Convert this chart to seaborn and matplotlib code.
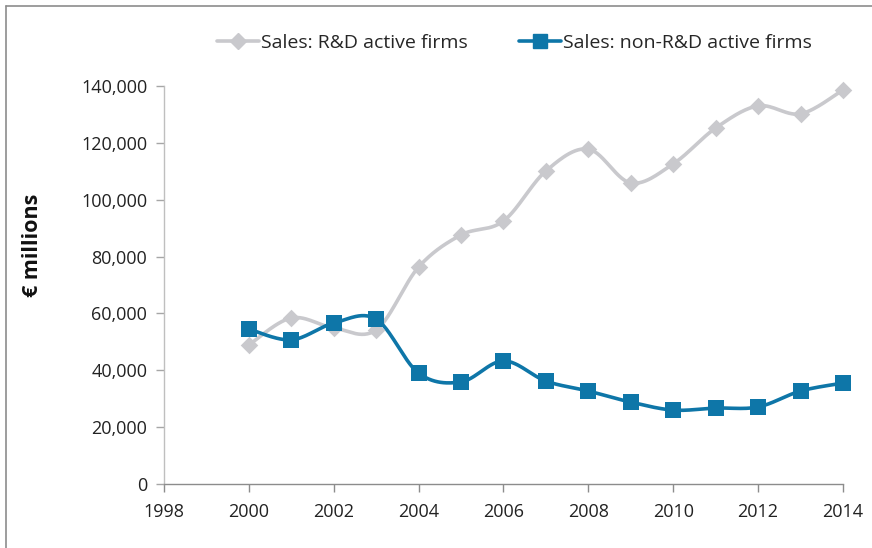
import numpy as np
import pandas as pd
import matplotlib
matplotlib.use("Agg")
import matplotlib.pyplot as plt
from matplotlib.lines import Line2D
import seaborn as sns

# --- data ---
years = list(range(2000, 2015))
rd_sales = [48900, 58400, 54900, 54200, 76300, 87600, 92500, 110100,
            117800, 105900, 112600, 125200, 133000, 130200, 138600]
nonrd_sales = [54500, 50700, 56600, 58000, 39000, 35900, 43300, 36200,
               32700, 28800, 26000, 26700, 27100, 32700, 35500]
series_names = ["Sales: R&D active firms", "Sales: non-R&D active firms"]
x_ticks = list(range(1998, 2015, 2))
y_ticks = list(range(0, 140001, 20000))

gray = "#C9C9CD"
blue = "#0E76A8"


def smooth(x, y, n=30):
    # Excel-style smoothed line: Catmull-Rom through the points as Bezier segments
    x = np.asarray(x, float)
    y = np.asarray(y, float)
    px = np.concatenate([[x[0]], x, [x[-1]]])
    py = np.concatenate([[y[0]], y, [y[-1]]])
    xs, ys = [], []
    t = np.linspace(0, 1, n)
    for i in range(1, len(px) - 2):
        p0 = np.array([px[i], py[i]])
        p3 = np.array([px[i + 1], py[i + 1]])
        p1 = p0 + (np.array([px[i + 1], py[i + 1]]) - np.array([px[i - 1], py[i - 1]])) / 6
        p2 = p3 - (np.array([px[i + 2], py[i + 2]]) - np.array([px[i], py[i]])) / 6
        b = ((1 - t) ** 3)[:, None] * p0 + (3 * (1 - t) ** 2 * t)[:, None] * p1 \
            + (3 * (1 - t) * t ** 2)[:, None] * p2 + (t ** 3)[:, None] * p3
        xs.extend(b[:, 0])
        ys.extend(b[:, 1])
    return pd.DataFrame({"x": xs, "y": ys})


sns.set_theme(style="white")
plt.rcParams["font.family"] = ["Open Sans", "DejaVu Sans"]

fig = plt.figure(figsize=(8.72, 5.48), dpi=100)
ax = fig.add_axes([0.188, 0.1168, 0.7787, 0.7263])

# smooth curves
sns.lineplot(data=smooth(years, rd_sales), x="x", y="y", sort=False,
             color=gray, linewidth=2.6, ax=ax)
sns.lineplot(data=smooth(years, nonrd_sales), x="x", y="y", sort=False,
             color=blue, linewidth=2.6, ax=ax)

# markers
pts = pd.DataFrame({"year": years, "rd": rd_sales, "nonrd": nonrd_sales})
sns.scatterplot(data=pts, x="year", y="rd", marker="D", s=80, color=gray,
                edgecolor=gray, linewidth=0, ax=ax, zorder=3, clip_on=False)
sns.scatterplot(data=pts, x="year", y="nonrd", marker="s", s=135, color=blue,
                edgecolor=blue, linewidth=0, ax=ax, zorder=4, clip_on=False)

ax.set_xlim(1998, 2014)
ax.set_ylim(0, 140000)
ax.set_xticks(x_ticks)
ax.set_yticks(y_ticks)
ax.set_yticklabels([f"{v:,}" for v in y_ticks])
ax.tick_params(axis="both", labelsize=13, labelcolor="#222222", length=6,
               width=1, direction="out", bottom=True, left=True)
ax.tick_params(axis="x", color="#8C8C8C", pad=8)
ax.tick_params(axis="y", color="#A6A6A6", pad=6)

for side in ["top", "right"]:
    ax.spines[side].set_visible(False)
ax.spines["left"].set_color("#BFBFBF")
ax.spines["bottom"].set_color("#8C8C8C")
ax.spines["left"].set_linewidth(1)
ax.spines["bottom"].set_linewidth(1)

ax.set_xlabel("")
ax.set_ylabel("€ millions", fontsize=15.5, fontweight="bold", color="#111111")
ax.yaxis.set_label_coords(-0.178, 0.6)

handles = [
    Line2D([], [], color=gray, linewidth=2.6, marker="D", markersize=8),
    Line2D([], [], color=blue, linewidth=2.6, marker="s", markersize=10),
]
fig.legend(handles, series_names, loc="center", bbox_to_anchor=(0.59, 0.922),
           ncol=2, frameon=False, fontsize=14, handlelength=2.2,
           handletextpad=0.1, columnspacing=2.6)

# chart frame (only top and left edges are visible in the reference)
fig.add_artist(Line2D([6 / 872, 6 / 872], [0, 1 - 6 / 548], color="#8C8C8C",
                      linewidth=1.2, transform=fig.transFigure))
fig.add_artist(Line2D([6 / 872, 1], [1 - 6 / 548, 1 - 6 / 548], color="#8C8C8C",
                      linewidth=1.2, transform=fig.transFigure))

fig.savefig("out.png", dpi=100)
